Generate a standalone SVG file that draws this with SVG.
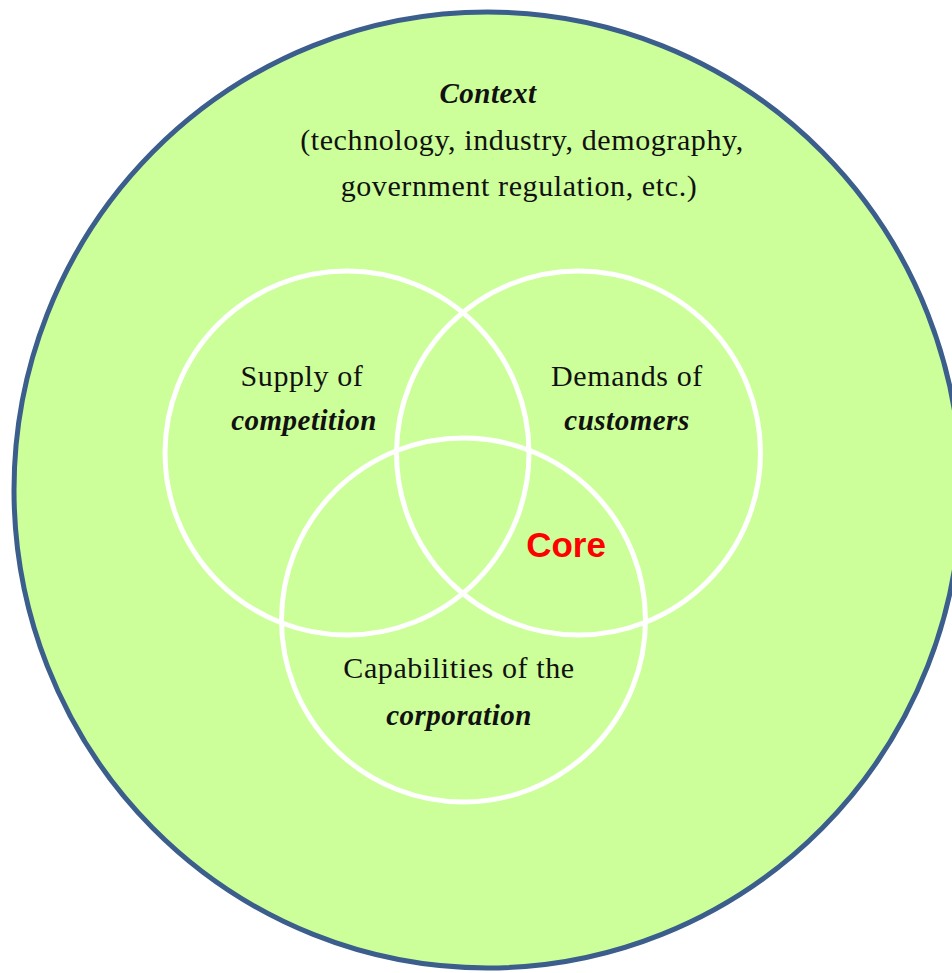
<svg xmlns="http://www.w3.org/2000/svg" width="952" height="973" viewBox="0 0 952 973">
  <style>
    .t { font-family: "Liberation Serif", "Times New Roman", serif; font-size: 30px; letter-spacing: 0.6px; fill: #111; text-anchor: middle; }
    .bi { font-weight: bold; font-style: italic; font-size: 29px; letter-spacing: 0.5px; }
    .venn { fill: none; stroke: #ffffff; stroke-width: 5; }
    .core { font-family: "Liberation Sans", Arial, sans-serif; font-weight: bold; font-size: 35px; fill: #ff0000; text-anchor: middle; }
  </style>
  <rect width="952" height="973" fill="#ffffff"/>
  <g id="context">
    <ellipse cx="487.5" cy="490" rx="473.5" ry="478" fill="#ccff99" stroke="#3b5e8c" stroke-width="5"/>
    <text class="t bi" x="488" y="103">Context</text>
    <text class="t" x="522" y="150">(technology, industry, demography,</text>
    <text class="t" x="519" y="196">government regulation, etc.)</text>
  </g>
  <g id="competition">
    <circle class="venn" cx="347" cy="453" r="182"/>
    <text class="t" x="302" y="386">Supply of</text>
    <text class="t bi" x="304" y="430">competition</text>
  </g>
  <g id="customers">
    <circle class="venn" cx="578.5" cy="453" r="182"/>
    <text class="t" x="627" y="386">Demands of</text>
    <text class="t bi" x="627" y="430">customers</text>
  </g>
  <g id="corporation">
    <circle class="venn" cx="463.5" cy="620" r="182"/>
    <text class="t" x="459" y="678">Capabilities of the</text>
    <text class="t bi" x="459" y="725">corporation</text>
  </g>
  <g id="core">
    <text class="core" x="566" y="557">Core</text>
  </g>
  <g id="connectors"/>
</svg>
